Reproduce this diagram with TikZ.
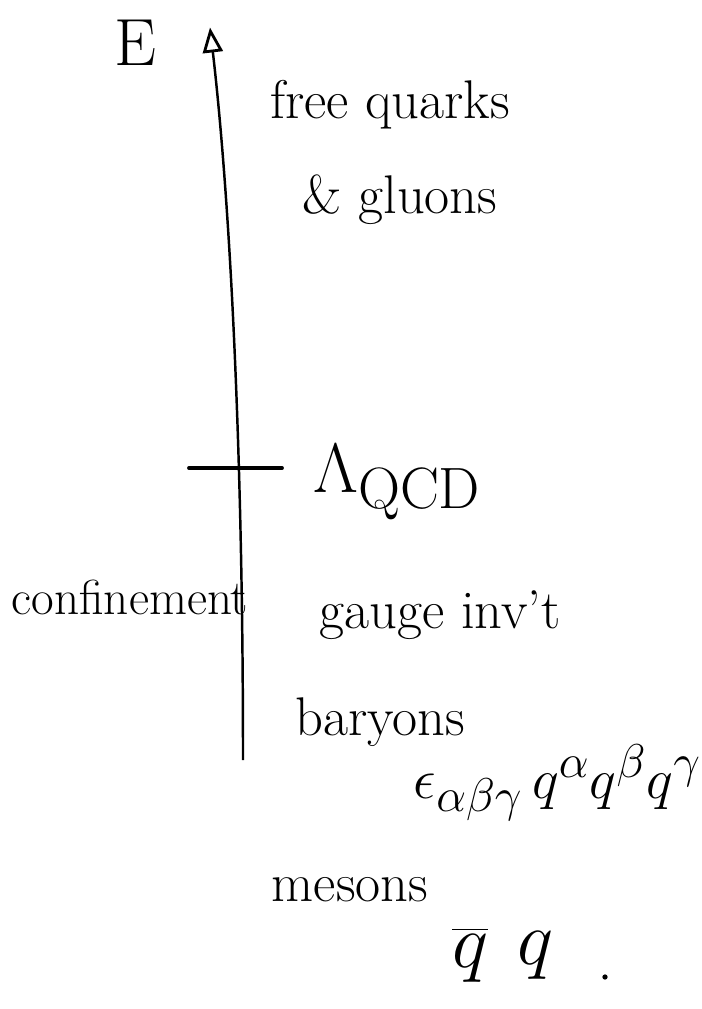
\documentclass[tikz,border=0pt]{standalone}
\usetikzlibrary{arrows.meta,positioning}
\tikzset{axis/.style={line width=1.4pt, -{Triangle[open, length=5mm, width=4mm, line width=1.6pt]}},
  tick/.style={line width=2.2pt, line cap=round},
  lbl/.style={font=\fontsize{31}{36}\selectfont, inner sep=1pt},
  mth/.style={font=\Huge, inner sep=1pt, transform shape}}

\begin{document}
\begin{tikzpicture}
  \useasboundingbox (0,0) rectangle (14.02,-20.18);
  % energy axis
  \coordinate (bot) at (4.86,-15.2);
  \coordinate (top) at (4.2,-0.55);
  \draw[axis] (bot) .. controls (4.86,-9) and (4.6,-4) .. (top);
  \node[lbl, font=\fontsize{38}{42}\selectfont] (E) at (2.7,-0.85) {E};
  % scale
  \coordinate (tl) at (3.78,-9.36);
  \coordinate (tr) at (5.64,-9.36);
  \draw[tick] (tl) -- (tr);
  \node[mth, scale=1.6] (lam) at (7.95,-9.65) {$\Lambda_{\mathrm{QCD}}$};
  % above
  \node[lbl] (free) at (7.8,-2.1) {free quarks};
  \node[lbl] (glu) at (8.0,-4.0) {\& gluons};
  % below
  \node[lbl, font=\fontsize{28}{32}\selectfont] (conf) at (2.6,-11.95) {confinement};
  \node[lbl] (gauge) at (8.8,-12.3) {gauge inv't};
  \node[lbl] (bar) at (7.6,-14.45) {baryons};
  \node[mth, scale=1.3] (eps) at (11.15,-15.65) {$\epsilon_{\alpha\beta\gamma}\,q^\alpha q^\beta q^\gamma$};
  \node[lbl] (mes) at (7.0,-17.8) {mesons};
  \node[mth, scale=1.75] (qb) at (9.4,-19.1) {$\overline{q}$};
  \node[mth, scale=1.75, right=0.45 of qb.east, anchor=west] (q) {$q$};
  \fill (12.1,-19.54) circle (1.5pt);
\end{tikzpicture}
\end{document}
